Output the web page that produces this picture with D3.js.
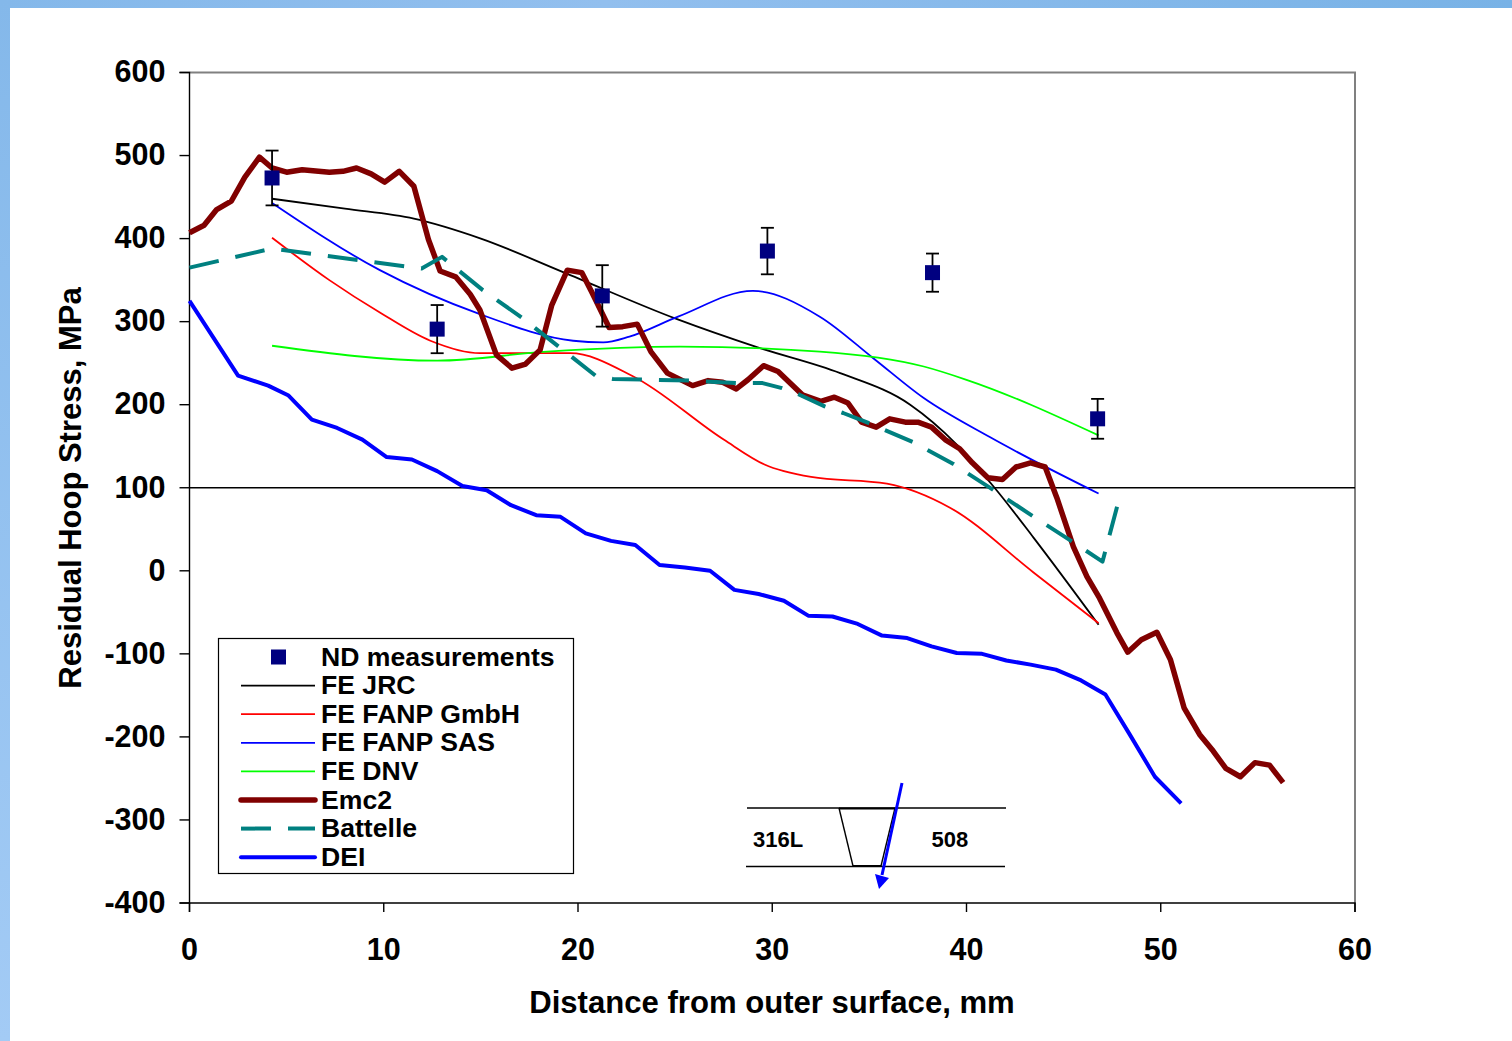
<!DOCTYPE html>
<html>
<head>
<meta charset="utf-8">
<script src="https://cdn.jsdelivr.net/npm/d3@7"></script>
<style>
  html, body { margin: 0; padding: 0; background: #fff; }
  text { font-family: "Liberation Sans", Arial, sans-serif; font-weight: bold; fill: #000; }
</style>
</head>
<body>
<div id="chart"></div>
<script>
// values: distance in mm, stress in MPa
const xTicks = [0, 10, 20, 30, 40, 50, 60];
const yTicks = [600, 500, 400, 300, 200, 100, 0, -100, -200, -300, -400];

const ndX = [4.25, 12.75, 21.25, 29.75, 38.25, 46.75];
const ndY = [473, 291, 331, 385, 359, 183];
const ndErr = [33, 29, 37, 28, 23, 24];

const jrcX = [4.25, 8, 11.55, 15, 19.2, 25.1, 29.25, 33.5, 37.1, 39.5, 41.55, 43.45, 46.8];
const jrcY = [448, 436, 424, 400, 360, 303, 269, 238, 200, 152, 97, 40, -65];

const gmbhX = [4.25, 7.2, 9.8, 12.4, 14.95, 19.6, 22.85, 27.5, 29.6, 32, 35.9, 39.15, 43.45, 46.8];
const gmbhY = [401, 350, 311, 277, 262, 262, 234, 158, 128, 113, 105, 76, -2, -63];

const sasX = [4.25, 9.8, 14.95, 19.75, 21.3, 22.65, 25.15, 29, 32.45, 35.2, 37.8, 41.2, 46.8];
const sasY = [443, 362, 309, 277, 275, 282, 306, 337, 306, 256, 208, 161, 93];

const dnvX = [4.25, 12.75, 18.4, 25.25, 32.45, 37.8, 40, 46.8];
const dnvY = [271, 253, 264, 270, 264, 246, 230, 163];

const emc2X = [0, 0.75, 1.4, 2.15, 2.85, 3.6, 4.25, 5, 5.8, 7.2, 7.9, 8.6, 9.35, 10.05, 10.8, 11.55, 12.3, 12.9, 13.7, 14.45, 14.95, 15.8, 16.6, 17.3, 18.05, 18.65, 19.45, 20.2, 20.7, 21.6, 22.3, 23.05, 23.75, 24.6, 25.9, 26.7, 27.45, 28.15, 28.75, 29.55, 30.3, 31.55, 32.5, 33.2, 33.9, 34.6, 35.35, 36.05, 36.85, 37.5, 38.2, 38.9, 39.65, 40.3, 41.1, 41.85, 42.55, 43.3, 44.05, 44.65, 45.5, 46.2, 46.85, 47.75, 48.3, 49, 49.8, 50.5, 51.2, 52, 52.7, 53.35, 54.1, 54.85, 55.6, 56.3];
const emc2Y = [407, 416, 435, 445, 474, 498, 485, 480, 483, 480, 481, 485, 478, 468, 481, 463, 399, 361, 354, 333, 314, 260, 244, 249, 266, 320, 362, 359, 336, 293, 294, 297, 264, 238, 223, 229, 227, 219, 230, 247, 240, 212, 204, 209, 202, 179, 173, 183, 179, 179, 173, 158, 147, 130, 112, 110, 125, 130, 125, 88, 29, -7, -33, -75, -98, -83, -74, -107, -165, -197, -217, -238, -248, -231, -234, -255];

const battelleX = [0, 4.25, 11.95, 13, 15.1, 17.1, 19, 20.9, 21.8, 25.75, 28.2, 29.5, 30.5, 31.4, 32.7, 33.65, 34.95, 37.25, 39.3, 41.4, 43.4, 45.45, 47, 47.75];
const battelleY = [365, 388, 364, 378, 338, 305, 270, 235, 231, 229, 226, 226, 220, 212, 198, 190, 178, 155, 129, 97, 66, 35, 11, 77];

const deiX = [0, 2.5, 4.05, 5.1, 6.3, 7.6, 8.9, 10.15, 11.45, 12.75, 14.05, 15.3, 16.55, 17.85, 19.1, 20.4, 21.7, 22.95, 24.2, 25.5, 26.8, 28.05, 29.3, 30.6, 31.85, 33.1, 34.4, 35.65, 36.95, 38.2, 39.5, 40.8, 42.05, 43.3, 44.6, 45.9, 47.15, 48.4, 49.7, 51.05];
const deiY = [325, 235, 223, 211, 182, 172, 158, 137, 134, 120, 102, 97, 79, 67, 65, 45, 36, 31, 7, 4, 0, -23, -28, -36, -54, -55, -64, -78, -81, -91, -99, -100, -108, -113, -119, -132, -149, -197, -248, -280];

const legendNames = ["ND measurements", "FE JRC", "FE FANP GmbH", "FE FANP SAS", "FE DNV", "Emc2", "Battelle", "DEI"];

const width = 1512, height = 1041;
const margin = {top: 72.5, right: 157, bottom: 138, left: 189.5};

const svg = d3.select("#chart").append("svg")
    .attr("width", width)
    .attr("height", height)
    .style("display", "block");

// slide background showing along the top and left edges
const defs = svg.append("defs");
const grad = defs.append("linearGradient").attr("id", "edge").attr("x1", 0).attr("y1", 0).attr("x2", 0).attr("y2", 1);
grad.append("stop").attr("offset", "0%").attr("stop-color", "#84b8ea");
grad.append("stop").attr("offset", "100%").attr("stop-color", "#a3cbf5");
const gradTop = defs.append("linearGradient").attr("id", "edgeTop");
gradTop.append("stop").attr("offset", "0%").attr("stop-color", "#84b8ea");
gradTop.append("stop").attr("offset", "40%").attr("stop-color", "#92bfee");
gradTop.append("stop").attr("offset", "100%").attr("stop-color", "#78b2e6");
svg.append("rect").attr("width", width).attr("height", 8).attr("fill", "url(#edgeTop)");
svg.append("rect").attr("width", 10).attr("height", height).attr("fill", "url(#edge)");

const x = d3.scaleLinear().domain([0, 60]).range([margin.left, width - margin.right]);
const y = d3.scaleLinear().domain([-400, 600]).range([height - margin.bottom, margin.top]);

// plot frame, the top and right sides are grey
svg.append("path")
    .attr("d", `M${x(0)},${y(600)}H${x(60)}V${y(-400)}`)
    .attr("fill", "none").attr("stroke", "#808080").attr("stroke-width", 2);

// line at 100 MPa
svg.append("line")
    .attr("x1", x(0)).attr("x2", x(60)).attr("y1", y(100)).attr("y2", y(100))
    .attr("stroke", "#000").attr("stroke-width", 1.4);

const xAxis = svg.append("g")
    .attr("transform", `translate(0,${y(-400)})`)
    .call(d3.axisBottom(x).offset(0).tickValues(xTicks).tickSize(9).tickPadding(26).tickFormat(d => String(d)));
const yAxis = svg.append("g")
    .attr("transform", `translate(${x(0)},0)`)
    .call(d3.axisLeft(y).offset(0).tickValues(yTicks).tickSize(10).tickPadding(14).tickFormat(d => String(d)));

for (const ax of [xAxis, yAxis]) {
    ax.selectAll("text").style("font-size", "30.5px").style("font-family", "'Liberation Sans'").style("font-weight", "bold");
    ax.selectAll("line").attr("stroke", "#000").attr("stroke-width", 1.4);
    ax.select(".domain").attr("stroke", "#000").attr("stroke-width", 1.4);
}

function zip(xs, ys) {
    return xs.map((d, i) => [d, ys[i]]);
}

const smooth = d3.line().x(d => x(d[0])).y(d => y(d[1])).curve(d3.curveMonotoneX);
const straight = d3.line().x(d => x(d[0])).y(d => y(d[1]));

const series = [
    {pts: zip(deiX, deiY), gen: straight, color: "#0000ff", w: 4},
    {pts: zip(jrcX, jrcY), gen: smooth, color: "#000000", w: 1.8},
    {pts: zip(gmbhX, gmbhY), gen: smooth, color: "#ff0000", w: 1.8},
    {pts: zip(sasX, sasY), gen: smooth, color: "#0000ff", w: 1.8},
    {pts: zip(dnvX, dnvY), gen: smooth, color: "#00ff00", w: 1.8},
    {pts: zip(emc2X, emc2Y), gen: straight, color: "#800000", w: 5.5},
    {pts: zip(battelleX, battelleY), gen: straight, color: "#008080", w: 4, dash: "30,17"}
];

svg.selectAll(".series")
    .data(series)
    .enter()
    .append("path")
    .attr("class", "series")
    .attr("d", d => d.gen(d.pts))
    .attr("fill", "none")
    .attr("stroke", d => d.color)
    .attr("stroke-width", d => d.w)
    .attr("stroke-linejoin", "round")
    .attr("stroke-dasharray", d => d.dash || null);

// ND points with error bars
const nd = svg.append("g").selectAll("g")
    .data(ndX.map((d, i) => ({x: d, y: ndY[i], e: ndErr[i]})))
    .enter().append("g");
nd.append("line")
    .attr("x1", d => x(d.x)).attr("x2", d => x(d.x))
    .attr("y1", d => y(d.y + d.e)).attr("y2", d => y(d.y - d.e))
    .attr("stroke", "#000").attr("stroke-width", 1.8);
for (const sign of [1, -1]) {
    nd.append("line")
        .attr("x1", d => x(d.x) - 6.5).attr("x2", d => x(d.x) + 6.5)
        .attr("y1", d => y(d.y + sign * d.e)).attr("y2", d => y(d.y + sign * d.e))
        .attr("stroke", "#000").attr("stroke-width", 1.8);
}
nd.append("rect")
    .attr("x", d => x(d.x) - 7.5).attr("y", d => y(d.y) - 7.5)
    .attr("width", 15).attr("height", 15)
    .attr("fill", "#000080");

// axis titles
svg.append("text")
    .attr("x", 772).attr("y", 1013)
    .attr("text-anchor", "middle")
    .style("font-size", "31.1px")
    .text("Distance from outer surface, mm");
svg.append("text")
    .attr("transform", "translate(81,488) rotate(-90)")
    .attr("text-anchor", "middle")
    .style("font-size", "31px")
    .text("Residual Hoop Stress, MPa");

// legend
const lg = svg.append("g");
lg.append("rect")
    .attr("x", 218.5).attr("y", 638.5).attr("width", 355).attr("height", 235)
    .attr("fill", "#fff").attr("stroke", "#000").attr("stroke-width", 1.2);
const legendStyle = [
    null,
    {color: "#000000", w: 1.8},
    {color: "#ff0000", w: 1.8},
    {color: "#0000ff", w: 1.8},
    {color: "#00ff00", w: 1.8},
    {color: "#800000", w: 5.5},
    {color: "#008080", w: 4, dash: "30,17"},
    {color: "#0000ff", w: 4}
];
legendNames.forEach((name, i) => {
    const ly = 657 + i * 28.6;
    lg.append("text").attr("x", 321).attr("y", ly + 8.5).style("font-size", "26.6px").text(name);
    const st = legendStyle[i];
    if (st) {
        lg.append("line")
            .attr("x1", 241).attr("x2", 315).attr("y1", ly).attr("y2", ly)
            .attr("stroke", st.color).attr("stroke-width", st.w)
            .attr("stroke-linecap", st.w > 3 && !st.dash ? "round" : "butt")
            .attr("stroke-dasharray", st.dash || null);
    } else {
        lg.append("rect").attr("x", 271).attr("y", ly - 7.5).attr("width", 15).attr("height", 15).attr("fill", "#000080");
    }
});

// weld sketch
const sketch = svg.append("g");
function seg(x1, y1, x2, y2, w, col) {
    sketch.append("line").attr("x1", x1).attr("y1", y1).attr("x2", x2).attr("y2", y2)
        .attr("stroke", col || "#000").attr("stroke-width", w || 1.4);
}
seg(747, 808, 1006, 808);
seg(746, 866.5, 1005, 866.5);
seg(839, 808, 853, 866);
seg(895, 808, 881, 866);
seg(839, 808.5, 895, 808.5, 2);
seg(853, 866, 881, 866, 2);
seg(902, 783, 882, 875, 3, "#0000ff");
sketch.append("path").attr("d", "M875,874L889,878L879,889Z").attr("fill", "#0000ff");
sketch.append("text").attr("x", 753).attr("y", 847).style("font-size", "22px").text("316L");
sketch.append("text").attr("x", 931.5).attr("y", 847).style("font-size", "22px").text("508");
</script>
</body>
</html>
